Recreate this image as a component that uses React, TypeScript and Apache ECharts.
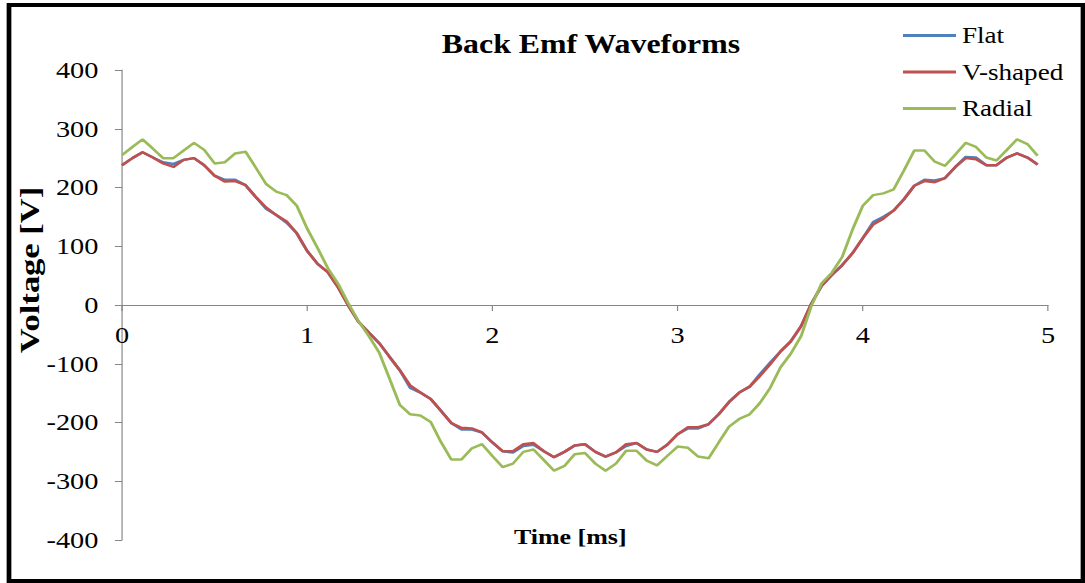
import { useEffect, useRef } from "react";
import * as echarts from "echarts";

// Sample instants (ms), 90 samples over one electrical period
const TIME_MS = [
  0, 0.056, 0.111, 0.167, 0.222, 0.278, 0.333, 0.389, 0.444,
  0.5, 0.556, 0.611, 0.667, 0.722, 0.778, 0.833, 0.889, 0.944,
  1, 1.056, 1.111, 1.167, 1.222, 1.278, 1.333, 1.389, 1.444,
  1.5, 1.556, 1.611, 1.667, 1.722, 1.778, 1.833, 1.889, 1.944,
  2, 2.056, 2.111, 2.167, 2.222, 2.278, 2.333, 2.389, 2.444,
  2.5, 2.556, 2.611, 2.667, 2.722, 2.778, 2.833, 2.889, 2.944,
  3, 3.056, 3.111, 3.167, 3.222, 3.278, 3.333, 3.389, 3.444,
  3.5, 3.556, 3.611, 3.667, 3.722, 3.778, 3.833, 3.889, 3.944,
  4, 4.056, 4.111, 4.167, 4.222, 4.278, 4.333, 4.389, 4.444,
  4.5, 4.556, 4.611, 4.667, 4.722, 4.778, 4.833, 4.889, 4.944,
];

// Back EMF (V) for each magnet shape
const FLAT = [
  238, 250, 260, 251, 243, 240, 247, 250, 238,
  220, 213, 213, 204, 184, 164, 153, 140, 122,
  92, 70, 56, 30, -1, -29, -47, -65, -88,
  -111, -141, -149, -160, -180, -201, -212, -212, -217,
  -234, -249, -251, -240, -238, -249, -259, -250, -239,
  -237, -250, -258, -251, -240, -235, -246, -250, -238,
  -220, -210, -210, -203, -186, -165, -149, -139, -118,
  -98, -79, -62, -36, 2, 33, 51, 68, 88,
  114, 141, 150, 161, 180, 203, 213, 212, 216,
  235, 252, 251, 238, 238, 251, 258, 251, 239,
];

const V_SHAPED = [
  238, 250, 260, 251, 241, 235, 247, 250, 238,
  220, 210, 211, 204, 184, 166, 153, 142, 122,
  92, 70, 56, 30, -1, -29, -47, -65, -88,
  -111, -137, -149, -160, -180, -201, -209, -210, -217,
  -234, -249, -249, -237, -235, -249, -259, -250, -239,
  -237, -250, -258, -251, -237, -235, -246, -250, -238,
  -220, -208, -208, -203, -186, -165, -149, -139, -121,
  -101, -79, -62, -36, 2, 33, 51, 68, 88,
  114, 137, 147, 161, 180, 203, 211, 209, 216,
  235, 250, 248, 238, 238, 251, 258, 251, 239,
];

const RADIAL = [
  255, 269, 282, 266, 250, 250, 263, 276, 264,
  241, 243, 258, 261, 234, 206, 193, 187, 169,
  130, 97, 63, 36, 3, -28, -53, -81, -125,
  -170, -186, -188, -199, -233, -263, -263, -244, -237,
  -257, -276, -270, -250, -246, -264, -282, -274, -254,
  -252, -270, -282, -270, -248, -248, -265, -273, -257,
  -241, -243, -258, -261, -234, -207, -194, -186, -167,
  -141, -106, -83, -53, -2, 37, 55, 82, 128,
  169, 187, 190, 197, 229, 263, 263, 244, 237,
  256, 276, 269, 251, 246, 264, 282, 274, 254,
];

const SERIES_NAMES = ["Flat", "V-shaped", "Radial"];
const SERIES_COLORS = ["#4F81BD", "#C0504D", "#9BBB59"];

// The chart is laid out on a narrower canvas and widened horizontally
const OUT_W = 1085;
const OUT_H = 583;
const BASE_W = 920;
const SX = OUT_W / BASE_W;
const FONT = "'Liberation Serif', 'Times New Roman', serif";
const AXIS_GREY = "#868686";

// Plot rectangle in output pixels
const PLOT_LEFT = 122;
const PLOT_RIGHT = 1048;
const PLOT_TOP = 70;
const PLOT_BOTTOM = 540;
const Y_MIN = -400;
const Y_MAX = 400;
// distance from the plot bottom up to the V = 0 line
const ZERO_LIFT = ((0 - Y_MIN) / (Y_MAX - Y_MIN)) * (PLOT_BOTTOM - PLOT_TOP);

function pairs(values: number[]) {
  return TIME_MS.map((t, i) => [t, values[i]]);
}

export default function App() {
  const ref = useRef<HTMLDivElement>(null);

  useEffect(() => {
    document.body.style.margin = "0";
    const el = ref.current;
    if (!el) return;
    const chart = echarts.init(el, null, { renderer: "svg" });
    const seriesValues = [FLAT, V_SHAPED, RADIAL];

    chart.setOption({
      animation: false,
      backgroundColor: "#ffffff",
      textStyle: { fontFamily: FONT },
      title: {
        text: "Back Emf Waveforms",
        left: 591 / SX,
        top: 30,
        textAlign: "center",
        padding: 0,
        textStyle: {
          fontFamily: FONT,
          fontSize: 27,
          fontWeight: "bold",
          color: "#000",
        },
      },
      legend: {
        orient: "vertical",
        left: 903 / SX,
        top: 24,
        padding: 0,
        icon: "rect",
        itemWidth: 53 / SX,
        itemHeight: 3,
        itemGap: 13.5,
        data: SERIES_NAMES,
        textStyle: { fontFamily: FONT, fontSize: 23, color: "#000" },
      },
      grid: {
        left: PLOT_LEFT / SX,
        right: BASE_W - PLOT_RIGHT / SX,
        top: PLOT_TOP,
        bottom: OUT_H - PLOT_BOTTOM,
        outerBoundsMode: "none",
      },
      xAxis: {
        type: "value",
        min: 0,
        max: 5,
        interval: 1,
        offset: -ZERO_LIFT,
        name: "Time [ms]",
        nameLocation: "middle",
        nameGap: 221,
        nameTextStyle: {
          fontFamily: FONT,
          fontSize: 22,
          fontWeight: "bold",
          color: "#000",
          padding: [0, 25, 0, 0],
        },
        axisLine: { onZero: false, lineStyle: { color: AXIS_GREY, width: 1 } },
        axisTick: { show: true, length: 6, lineStyle: { color: AXIS_GREY } },
        axisLabel: {
          margin: 18,
          fontFamily: FONT,
          fontSize: 24,
          color: "#000",
          showMinLabel: true,
          showMaxLabel: true,
        },
        splitLine: { show: false },
      },
      yAxis: {
        type: "value",
        min: Y_MIN,
        max: Y_MAX,
        interval: 100,
        axisLine: { show: true, onZero: false, lineStyle: { color: AXIS_GREY, width: 1 } },
        axisTick: { show: true, length: 6, lineStyle: { color: AXIS_GREY } },
        axisLabel: { margin: 20, fontFamily: FONT, fontSize: 24, color: "#000" },
        splitLine: { show: false },
      },
      graphic: [
        {
          // vertical axis title, reading bottom to top
          type: "text",
          x: 30 / SX,
          y: 270,
          rotation: Math.PI / 2,
          scaleX: 1.5,
          silent: true,
          style: {
            text: "Voltage [V]",
            fontFamily: FONT,
            fontSize: 23,
            fontWeight: "bold",
            fill: "#000",
            align: "center",
            verticalAlign: "middle",
          },
        },
        {
          type: "rect",
          shape: { x: 9 / SX, y: 5, width: (1083 - 9) / SX, height: 576 },
          style: { fill: "none", stroke: "#000", lineWidth: 4 },
          silent: true,
          z: 100,
        },
      ],
      series: SERIES_NAMES.map((name, k) => ({
        name,
        type: "line",
        data: pairs(seriesValues[k]),
        symbol: "none",
        showSymbol: false,
        smooth: false,
        color: SERIES_COLORS[k],
        lineStyle: { width: 2.5, color: SERIES_COLORS[k] },
        z: 2 + k,
      })),
    });

    return () => chart.dispose();
  }, []);

  return (
    <div style={{ width: OUT_W, height: OUT_H, overflow: "hidden", background: "#fff" }}>
      <div
        ref={ref}
        style={{
          width: BASE_W,
          height: OUT_H,
          transform: `scaleX(${SX})`,
          transformOrigin: "0 0",
        }}
      />
    </div>
  );
}
